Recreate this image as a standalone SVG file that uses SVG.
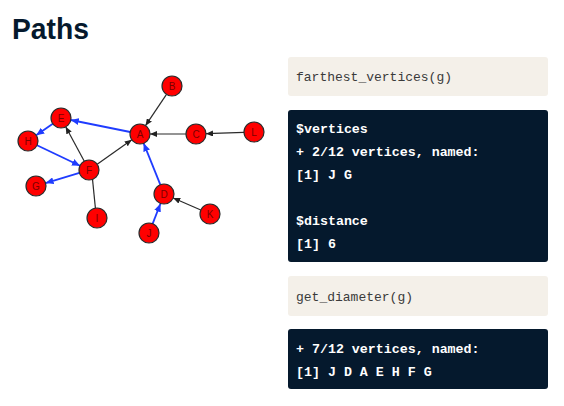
<svg xmlns="http://www.w3.org/2000/svg" width="564" height="406" viewBox="0 0 564 406">
<defs>
<marker id="ak" markerUnits="userSpaceOnUse" markerWidth="7" markerHeight="6" refX="7" refY="3" orient="auto"><path d="M0,0 L7,3 L0,6 z" fill="#222"/></marker>
<marker id="ab" markerUnits="userSpaceOnUse" markerWidth="8" markerHeight="7" refX="8" refY="3.5" orient="auto"><path d="M0,0 L8,3.5 L0,7 z" fill="#1f3cff"/></marker>
</defs>
<style>
.title{font-family:"Liberation Sans",Arial,sans-serif;font-weight:bold;font-size:30px;fill:#05192d}
.nd circle{fill:#ff0000;stroke:#2a2a2a;stroke-width:1.2}
.nd text{font-family:"Liberation Sans",Arial,sans-serif;font-size:10px;fill:#7a0000;text-anchor:middle}
.k{stroke:#2a2a2a;stroke-width:1.2;fill:none;marker-end:url(#ak)}
.b{stroke:#1f3cff;stroke-width:1.8;fill:none;marker-end:url(#ab)}
.code{fill:#f4f0e9}
.out{fill:#05192d}
.ct{font-family:"Liberation Mono","DejaVu Sans Mono",monospace;font-size:13px;fill:#3a3a3a}
.ot{font-family:"Liberation Mono","DejaVu Sans Mono",monospace;font-size:13.3px;font-weight:bold;fill:#ffffff}
</style>
<text class="title" x="12" y="39" textLength="77" lengthAdjust="spacingAndGlyphs">Paths</text>
<g id="connectors">
<line class="k" x1="166.5" y1="94.3" x2="145.5" y2="125.7"/>
<line class="k" x1="186" y1="134" x2="150" y2="134"/>
<line class="k" x1="244" y1="132.3" x2="206" y2="133.7"/>
<line class="k" x1="97.2" y1="164.2" x2="131.8" y2="139.8"/>
<line class="k" x1="84.3" y1="161.2" x2="65.7" y2="126.8"/>
<line class="k" x1="95.4" y1="208.1" x2="90.6" y2="160.1"/>
<line class="k" x1="200.8" y1="210" x2="173.2" y2="198"/>
<line class="b" x1="130.2" y1="132" x2="70.8" y2="120"/>
<line class="b" x1="52.8" y1="123.7" x2="36.2" y2="135.3"/>
<line class="b" x1="37" y1="145.3" x2="80" y2="165.7"/>
<line class="b" x1="79.4" y1="172.9" x2="45.6" y2="183.1"/>
<line class="b" x1="160.3" y1="184.7" x2="143.7" y2="143.3"/>
<line class="b" x1="152.6" y1="223.9" x2="160.4" y2="203.7"/>
</g>
<g id="node-A" class="nd"><circle cx="140" cy="134" r="10"/><text x="140" y="137.5">A</text></g>
<g id="node-B" class="nd"><circle cx="172" cy="86" r="10"/><text x="172" y="89.5">B</text></g>
<g id="node-C" class="nd"><circle cx="196" cy="134" r="10"/><text x="196" y="137.5">C</text></g>
<g id="node-D" class="nd"><circle cx="164" cy="194" r="10"/><text x="164" y="197.5">D</text></g>
<g id="node-E" class="nd"><circle cx="61" cy="118" r="10"/><text x="61" y="121.5">E</text></g>
<g id="node-F" class="nd"><circle cx="89" cy="170" r="10"/><text x="89" y="173.5">F</text></g>
<g id="node-G" class="nd"><circle cx="36" cy="186" r="10"/><text x="36" y="189.5">G</text></g>
<g id="node-H" class="nd"><circle cx="28" cy="141" r="10"/><text x="28" y="144.5">H</text></g>
<g id="node-I" class="nd"><circle cx="97" cy="218" r="10"/><text x="97" y="221.5">I</text></g>
<g id="node-J" class="nd"><circle cx="149" cy="233" r="10"/><text x="149" y="236.5">J</text></g>
<g id="node-K" class="nd"><circle cx="210" cy="214" r="10"/><text x="210" y="217.5">K</text></g>
<g id="node-L" class="nd"><circle cx="254" cy="132" r="10"/><text x="254" y="135.5">L</text></g>
<g id="code1"><rect class="code" x="288" y="57" width="260" height="39" rx="3"/><text class="ct" x="296" y="81">farthest_vertices(g)</text></g>
<g id="out1"><rect class="out" x="288" y="110" width="260" height="152" rx="3"/>
<text class="ot" x="296" y="133">$vertices</text>
<text class="ot" x="296" y="156">+ 2/12 vertices, named:</text>
<text class="ot" x="296" y="179">[1] J G</text>
<text class="ot" x="296" y="225">$distance</text>
<text class="ot" x="296" y="248">[1] 6</text></g>
<g id="code2"><rect class="code" x="288" y="276" width="260" height="40" rx="3"/><text class="ct" x="296" y="301">get_diameter(g)</text></g>
<g id="out2"><rect class="out" x="288" y="329" width="260" height="60" rx="3"/>
<text class="ot" x="296" y="353">+ 7/12 vertices, named:</text>
<text class="ot" x="296" y="376">[1] J D A E H F G</text></g>
</svg>
